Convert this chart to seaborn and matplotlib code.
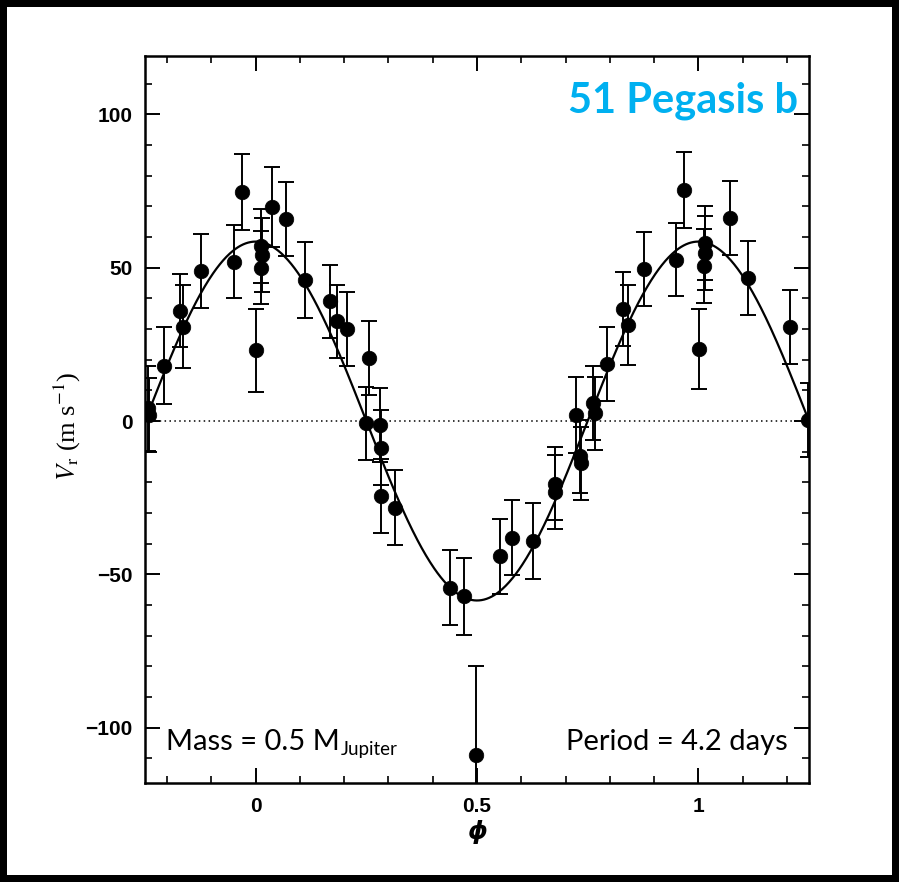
import numpy as np
import pandas as pd
import matplotlib
matplotlib.use("Agg")
import matplotlib.pyplot as plt
import matplotlib.transforms as mtransforms
from matplotlib.patches import Rectangle
from matplotlib.ticker import FixedLocator, MultipleLocator
import seaborn as sns

# ---------------- data ----------------
phase = [-0.244, -0.240, -0.208, -0.172, -0.164, -0.124, -0.050, -0.032,
         0.000, 0.013, 0.014, 0.013, 0.037, 0.069, 0.111, 0.169, 0.183,
         0.207, 0.256, 0.249, 0.281, 0.284, 0.284, 0.314, 0.439, 0.471,
         0.497, 0.552, 0.578, 0.626, 0.677, 0.677, 0.723, 0.733, 0.735,
         0.763, 0.767, 0.793, 0.830, 0.840, 0.877, 0.949, 0.967, 1.001,
         1.016, 1.016, 1.013, 1.072, 1.112, 1.208, 1.247]
velocity = [4.1, 2.0, 18.0, 36.0, 30.8, 49.0, 52.0, 74.7,
            23.0, 57.0, 54.2, 50.0, 69.7, 65.9, 46.0, 39.0, 32.5,
            30.0, 20.5, -0.8, -1.3, -8.7, -24.5, -28.2, -54.4, -57.2,
            -108.8, -44.1, -38.0, -39.1, -20.4, -23.1, 2.0, -11.5, -13.8,
            5.8, 2.5, 18.6, 36.5, 31.4, 49.6, 52.6, 75.3, 23.5,
            58.1, 54.8, 50.6, 66.2, 46.6, 30.6, 0.3]
error = [14, 12, 12.5, 12, 13.5, 12, 12, 12.5,
         13.5, 12, 12, 12, 13, 12, 12.3, 12, 12,
         12, 12, 12, 12, 12.3, 12, 12.3, 12.2, 12.7,
         29, 12.3, 12.2, 12.4, 12, 12, 12.5, 12, 12,
         12, 12, 12, 12, 13, 12, 12, 12.5, 13,
         12, 12, 12, 12, 12, 12, 12]

# fitted orbit model parameters
K_AMPLITUDE = 58.5       # m/s
PHASE_OFFSET = 0.0

x_ticks = [0, 0.5, 1]
x_tick_labels = ["0", "0.5", "1"]
y_ticks = [-100, -50, 0, 50, 100]
y_tick_labels = ["\u2212100", "\u221250", "0", "50", "100"]

title_text = "51 Pegasis b"
mass_text = "Mass = 0.5 M"
mass_sub = "Jupiter"
period_text = "Period = 4.2 days"

df = pd.DataFrame({"phase": phase, "velocity": velocity, "error": error})
phi_grid = np.linspace(-0.25, 1.25, 800)
model = pd.DataFrame({"phase": phi_grid,
                      "velocity": K_AMPLITUDE * np.cos(2 * np.pi * (phi_grid - PHASE_OFFSET))})

# ---------------- style ----------------
sns.set_style("ticks")
plt.rcParams["font.family"] = ["Liberation Sans", "DejaVu Sans"]
plt.rcParams["mathtext.fontset"] = "stix"
plt.rcParams["text.color"] = "black"
plt.rcParams["axes.labelcolor"] = "black"
plt.rcParams["xtick.color"] = "black"
plt.rcParams["ytick.color"] = "black"

W, H = 899, 882
fig = plt.figure(figsize=(W / 100, H / 100), dpi=100)
fig.patch.set_facecolor("black")
b = 7
fig.add_artist(Rectangle((b / W, b / H), 1 - 2 * b / W, 1 - 2 * b / H,
                         transform=fig.transFigure, facecolor="white",
                         edgecolor="none", zorder=-10))

L, R, T, B = 145, 809, 56, 783
ax = fig.add_axes([L / W, 1 - B / H, (R - L) / W, (B - T) / H])
ax.set_facecolor("white")

def ax_xy(px, py):
    return (px - L) / (R - L), (B - py) / (B - T)

ax.axhline(0, color="black", lw=1.1, ls=(0, (1, 2.2)), zorder=1)
sns.lineplot(data=model, x="phase", y="velocity", color="black", lw=1.6,
             ax=ax, zorder=2)
ax.errorbar(df["phase"], df["velocity"], yerr=df["error"], fmt="none",
            ecolor="black", elinewidth=1.4, capsize=6, capthick=1.4, zorder=3)
sns.scatterplot(data=df, x="phase", y="velocity", s=110, color="black",
                edgecolor="black", linewidth=0.5, ax=ax, zorder=4)

ax.set_xlim(-0.25, 1.25)
ax.set_ylim(-118, 119)

ax.xaxis.set_major_locator(FixedLocator(x_ticks))
ax.xaxis.set_minor_locator(MultipleLocator(0.1))
ax.yaxis.set_major_locator(FixedLocator(y_ticks))
ax.yaxis.set_minor_locator(MultipleLocator(10))
ax.set_xticklabels(x_tick_labels, fontweight="bold")
ax.set_yticklabels(y_tick_labels, fontweight="bold")

ax.tick_params(which="both", direction="in", top=True, right=True,
               color="black", labelcolor="black", labelsize=15)
ax.tick_params(which="major", length=11, width=1.4)
ax.tick_params(which="minor", length=5, width=1.2)
ax.tick_params(axis="y", pad=9)
ax.tick_params(axis="x", pad=10)
for s in ax.spines.values():
    s.set_linewidth(1.8)
    s.set_color("black")
    s.set_visible(True)

ax.set_ylabel(r"$V_{\mathrm{r}}$ (m s$^{-1}$)", fontsize=19,
              family="Liberation Serif", color="black")
ax.yaxis.set_label_coords(-0.093, 0.49)
ax.set_xlabel("\u03d5", fontsize=18, fontweight="bold", fontstyle="italic",
              family="DejaVu Sans", color="black")
ax.xaxis.set_label_coords(0.5, -0.05)

tx, ty = ax_xy(798, 112)
ax.text(tx, ty, title_text, transform=ax.transAxes, ha="right", va="baseline",
        fontsize=30, fontweight="bold", color="#00B0F0", family="Lato")

mx, my = ax_xy(166, 750)
t_mass = ax.text(mx, my, mass_text, transform=ax.transAxes, ha="left",
                 va="baseline", fontsize=21, family="Lato", color="black")
px_, py_ = ax_xy(788, 750)
ax.text(px_, py_, period_text, transform=ax.transAxes, ha="right",
        va="baseline", fontsize=21, family="Lato", color="black")

fig.canvas.draw()
bb = t_mass.get_window_extent(fig.canvas.get_renderer())
base_y = ax.transAxes.transform((0, my))[1]
fig.text(bb.x1 + 1, base_y - 5, mass_sub, transform=mtransforms.IdentityTransform(),
         ha="left", va="baseline", fontsize=13.5, family="Lato", color="black")

fig.savefig("out.png", dpi=100, facecolor=fig.get_facecolor())
